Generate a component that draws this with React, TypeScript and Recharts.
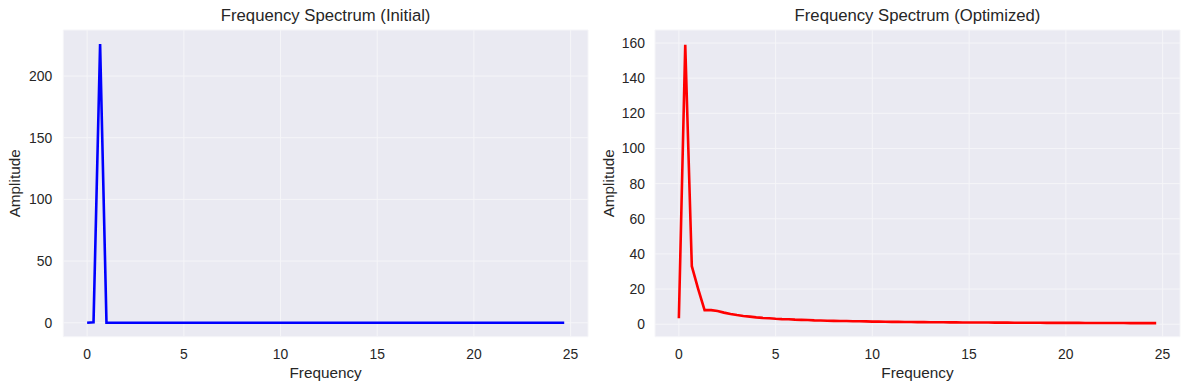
import React from "react";
import { CartesianGrid, Label, Line, LineChart, XAxis, YAxis } from "recharts";

// frequency bins (Hz)
const freqs = [
  0, 0.33, 0.67, 1, 1.33, 1.67, 2, 2.33, 2.67, 3, 3.33, 3.67, 4, 4.33, 4.67,
  5, 5.33, 5.67, 6, 6.33, 6.67, 7, 7.33, 7.67, 8, 8.33, 8.67, 9, 9.33, 9.67,
  10, 10.33, 10.67, 11, 11.33, 11.67, 12, 12.33, 12.67, 13, 13.33, 13.67, 14,
  14.33, 14.67, 15, 15.33, 15.67, 16, 16.33, 16.67, 17, 17.33, 17.67, 18,
  18.33, 18.67, 19, 19.33, 19.67, 20, 20.33, 20.67, 21, 21.33, 21.67, 22,
  22.33, 22.67, 23, 23.33, 23.67, 24, 24.33, 24.67,
];

const initialAmp = [
  0, 0.4, 226, 0, 0, 0, 0, 0, 0, 0, 0, 0, 0, 0, 0, 0, 0, 0, 0, 0, 0, 0, 0, 0,
  0, 0, 0, 0, 0, 0, 0, 0, 0, 0, 0, 0, 0, 0, 0, 0, 0, 0, 0, 0, 0, 0, 0, 0, 0,
  0, 0, 0, 0, 0, 0, 0, 0, 0, 0, 0, 0, 0, 0, 0, 0, 0, 0, 0, 0, 0, 0, 0, 0, 0,
  0,
];

const optimizedAmp = [
  3.4, 159, 33, 20, 8, 8, 7.5, 6.6, 5.8, 5.2, 4.7, 4.3, 3.9, 3.6, 3.4, 3.1,
  2.9, 2.8, 2.6, 2.5, 2.4, 2.2, 2.1, 2.0, 1.9, 1.85, 1.8, 1.7, 1.65, 1.6, 1.5,
  1.45, 1.4, 1.36, 1.32, 1.28, 1.25, 1.22, 1.18, 1.15, 1.12, 1.1, 1.07, 1.05,
  1.02, 1.0, 0.98, 0.96, 0.94, 0.92, 0.9, 0.88, 0.87, 0.85, 0.84, 0.82, 0.81,
  0.79, 0.78, 0.77, 0.76, 0.75, 0.74, 0.72, 0.71, 0.7, 0.69, 0.68, 0.67, 0.66,
  0.65, 0.64, 0.63, 0.62, 0.61,
];

const xTicks = [0, 5, 10, 15, 20, 25];
const initialTicks = [0, 50, 100, 150, 200];
const optimizedTicks = [0, 20, 40, 60, 80, 100, 120, 140, 160];

const data = freqs.map((f, i) => ({
  f,
  initial: initialAmp[i],
  optimized: optimizedAmp[i],
}));

const FONT = "'Liberation Sans', Arial, sans-serif";
const INK = "#262626";
const BG = "#EAEAF2";

function YTitle({ viewBox, value, cx }: any) {
  const y = viewBox.y + viewBox.height / 2;
  return (
    <text
      x={cx}
      y={y}
      transform={`rotate(-90 ${cx} ${y})`}
      textAnchor="middle"
      dominantBaseline="central"
      fill={INK}
      fontSize={15.3}
      fontFamily={FONT}
    >
      {value}
    </text>
  );
}

interface PanelProps {
  left: number;
  title: string;
  dataKey: string;
  color: string;
  yDomain: [number, number];
  yTicks: number[];
  yAxisWidth: number;
  tickGap: number;
  labelX: number;
  rightMargin: number;
}

function Panel({
  left,
  title,
  dataKey,
  color,
  yDomain,
  yTicks,
  yAxisWidth,
  tickGap,
  labelX,
  rightMargin,
}: PanelProps) {
  const width = 600;
  const plotLeft = yAxisWidth;
  const plotRight = width - rightMargin;
  return (
    <div style={{ position: "absolute", left, top: 0, width, height: 390 }}>
      <div
        style={{
          position: "absolute",
          left: plotLeft,
          width: plotRight - plotLeft,
          top: 6,
          textAlign: "center",
          fontFamily: FONT,
          fontSize: 16.7,
          color: INK,
          lineHeight: "20px",
        }}
      >
        {title}
      </div>
      <LineChart
        width={width}
        height={390}
        data={data}
        margin={{ top: 30, right: rightMargin, left: 0, bottom: 0 }}
      >
        <CartesianGrid fill={BG} stroke="#F5F5F8" strokeWidth={1} />
        <XAxis
          dataKey="f"
          type="number"
          domain={[-1.233, 25.9]}
          ticks={xTicks}
          allowDataOverflow
          height={53.3}
          axisLine={false}
          tickLine={false}
          tickSize={0}
          tickMargin={12}
          tick={{ fill: INK, fontSize: 13.9, fontFamily: FONT }}
        >
          <Label
            value="Frequency"
            position="insideBottom"
            offset={12}
            fill={INK}
            fontSize={15.3}
            fontFamily={FONT}
          />
        </XAxis>
        <YAxis
          type="number"
          domain={yDomain}
          ticks={yTicks}
          allowDataOverflow
          width={yAxisWidth}
          axisLine={false}
          tickLine={false}
          tickSize={0}
          tickMargin={tickGap}
          tick={{ fill: INK, fontSize: 13.9, fontFamily: FONT }}
        >
          <Label
            value="Amplitude"
            content={(p: any) => <YTitle {...p} value="Amplitude" cx={labelX} />}
          />
        </YAxis>
        <Line
          type="linear"
          dataKey={dataKey}
          stroke={color}
          strokeWidth={2.6}
          dot={false}
          activeDot={false}
          isAnimationActive={false}
        />
      </LineChart>
    </div>
  );
}

export default function App() {
  return (
    <div
      style={{
        position: "absolute",
        left: 0,
        top: 0,
        width: 1189,
        height: 390,
        background: "#fff",
        overflow: "hidden",
      }}
    >
      <Panel
        left={0}
        title="Frequency Spectrum (Initial)"
        dataKey="initial"
        color="#0000FF"
        yDomain={[-11.3, 237.3]}
        yTicks={initialTicks}
        yAxisWidth={63.3}
        tickGap={11}
        labelX={15}
        rightMargin={12}
      />
      <Panel
        left={589}
        title="Frequency Spectrum (Optimized)"
        dataKey="optimized"
        color="#FF0000"
        yDomain={[-7.1, 167.4]}
        yTicks={optimizedTicks}
        yAxisWidth={66}
        tickGap={10}
        labelX={20}
        rightMargin={9}
      />
    </div>
  );
}
